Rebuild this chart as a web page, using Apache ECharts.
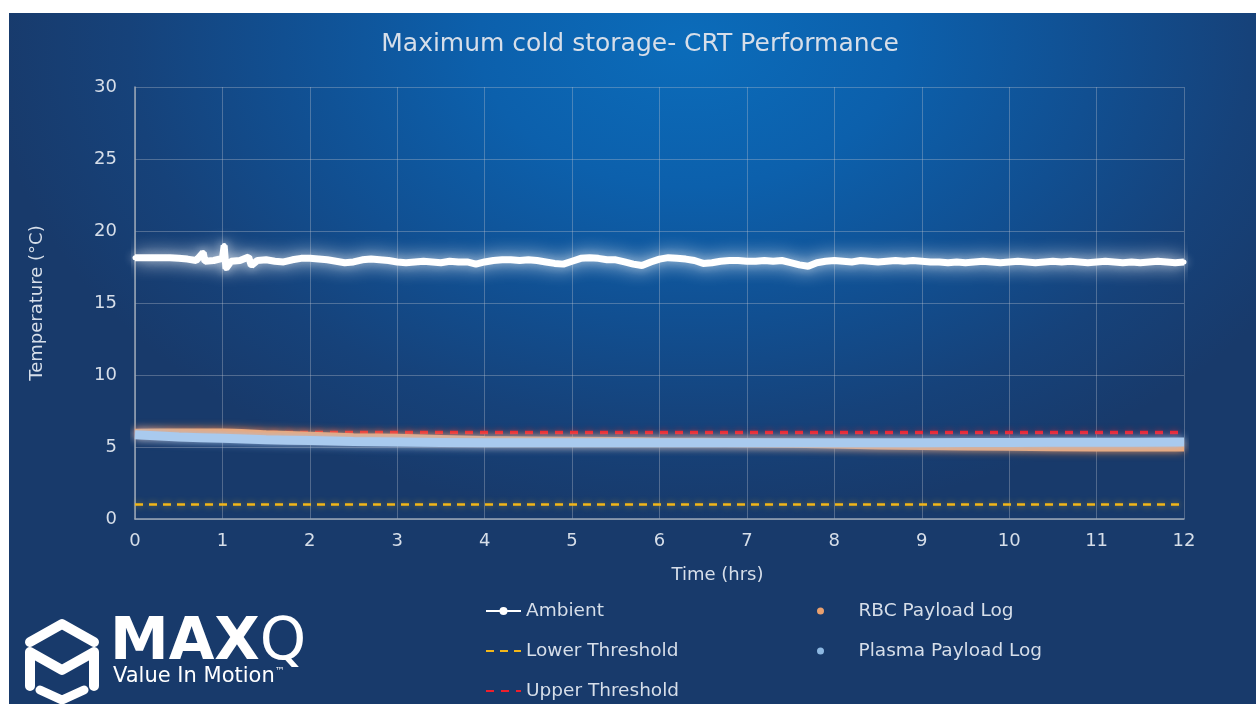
<!DOCTYPE html>
<html><head><meta charset="utf-8">
<script src="https://cdn.jsdelivr.net/npm/echarts@6/dist/echarts.min.js"></script>
<style>
html,body{margin:0;padding:0;background:#fff;width:1256px;height:704px;overflow:hidden;}
#bg{position:absolute;left:9px;top:13px;width:1247px;height:691px;
background:radial-gradient(ellipse 700px 480px at 680px 30px,#0b6cba 0%,#0c60ac 30%,#114f91 58%,#16427a 80%,#183a6b 100%);}
#chart{position:absolute;left:0;top:0;width:1256px;height:704px;}
</style></head>
<body><div id="bg"></div><div id="chart"></div>
<script>
// ---- data ----
const xTicks = [0,1,2,3,4,5,6,7,8,9,10,11,12];
const yTicks = [0,5,10,15,20,25,30];
const ambientTime = [0,0.1,0.2,0.3,0.4,0.5,0.6,0.7,0.78,0.8,0.9,1.0,1.02,1.04,1.1,1.2,1.3,1.33,1.4,1.5,1.6,1.7,1.8,1.9,2.0,2.1,2.2,2.3,2.4,2.5,2.6,2.7,2.8,2.9,3.0,3.1,3.2,3.3,3.4,3.5,3.6,3.7,3.8,3.9,4.0,4.1,4.2,4.3,4.4,4.5,4.6,4.7,4.8,4.9,5.0,5.1,5.2,5.3,5.4,5.5,5.6,5.7,5.8,5.9,6.0,6.1,6.2,6.3,6.4,6.5,6.6,6.7,6.8,6.9,7.0,7.1,7.2,7.3,7.4,7.5,7.6,7.7,7.8,7.9,8.0,8.1,8.2,8.3,8.4,8.5,8.6,8.7,8.8,8.9,9.0,9.1,9.2,9.3,9.4,9.5,9.6,9.7,9.8,9.9,10.0,10.1,10.2,10.3,10.4,10.5,10.6,10.7,10.8,10.9,11.0,11.1,11.2,11.3,11.4,11.5,11.6,11.7,11.8,11.9,12.0];
const ambientTemp = [18.15,18.15,18.15,18.15,18.15,18.1,18.05,17.95,18.5,17.9,17.95,18.1,19.0,17.4,17.9,17.95,18.2,17.6,17.95,18.0,17.9,17.85,18.0,18.1,18.1,18.05,18.0,17.9,17.8,17.85,18.0,18.05,18.0,17.95,17.85,17.8,17.85,17.9,17.85,17.8,17.9,17.85,17.85,17.7,17.85,17.95,18.0,18.0,17.95,18.0,17.95,17.85,17.75,17.7,17.9,18.1,18.15,18.1,18.0,18.0,17.85,17.7,17.6,17.85,18.05,18.15,18.1,18.05,17.95,17.75,17.8,17.9,17.95,17.95,17.9,17.9,17.95,17.9,17.95,17.8,17.65,17.55,17.8,17.9,17.95,17.9,17.85,17.95,17.9,17.85,17.9,17.95,17.9,17.95,17.9,17.85,17.85,17.8,17.85,17.8,17.85,17.9,17.85,17.8,17.85,17.9,17.85,17.8,17.85,17.9,17.85,17.9,17.85,17.8,17.85,17.9,17.85,17.8,17.85,17.8,17.85,17.9,17.85,17.8,17.85];
const payloadTime = [0,0.5,1,1.5,2,2.5,3,4,5,6,7,8,9,10,11,12];
const rbcTemp =    [5.95,5.98,5.98,5.85,5.75,5.65,5.6,5.45,5.4,5.35,5.3,5.2,5.1,5.05,5.0,5.0];
const plasmaTemp = [5.85,5.7,5.6,5.5,5.45,5.38,5.35,5.3,5.3,5.3,5.3,5.3,5.3,5.32,5.33,5.35];
const thresholdTime = [0,12];
const upperThreshold = [6,6];
const lowerThreshold = [1,1];

const pairs = (xs, ys) => xs.map((x,i)=>[x,ys[i]]);
const FONT = "'DejaVu Sans', sans-serif";
const TXT = '#d6dee9';

const chart = echarts.init(document.getElementById('chart'), null, {renderer:'canvas'});
chart.setOption({
  backgroundColor:'transparent',
  animation:false,
  title:{text:'Maximum cold storage- CRT Performance',left:635,top:27,textAlign:'center',
    textStyle:{color:TXT,fontSize:25,fontWeight:'normal',fontFamily:FONT}},
  grid:{left:135,right:72,top:87,bottom:185},
  xAxis:{type:'value',min:0,max:12,interval:1,name:'Time (hrs)',nameLocation:'middle',nameGap:47,
    nameTextStyle:{color:TXT,fontSize:18,fontFamily:FONT,padding:[0,0,0,116]},
    axisLine:{lineStyle:{color:'#9aa6b6',width:1.5}},axisTick:{show:false},
    axisLabel:{color:TXT,fontSize:18,fontFamily:FONT,margin:13,formatter:v=>xTicks.includes(v)?String(v):''},
    splitLine:{show:true,lineStyle:{color:'rgba(190,195,205,0.35)',width:1}}},
  yAxis:{type:'value',min:0,max:30,interval:5,name:'Temperature (°C)',nameLocation:'middle',nameGap:89,
    nameTextStyle:{color:TXT,fontSize:18,fontFamily:FONT},
    axisLine:{show:true,lineStyle:{color:'#9aa6b6',width:1.5}},axisTick:{show:false},
    axisLabel:{color:TXT,fontSize:18,fontFamily:FONT,margin:18,formatter:v=>yTicks.includes(v)?String(v):''},
    splitLine:{show:true,lineStyle:{color:'rgba(190,195,205,0.35)',width:1}}},
  legend:[
    {orient:'vertical',left:485,top:601,padding:0,itemWidth:35,itemHeight:10,itemGap:20,
     textStyle:{color:TXT,fontSize:18.5,fontFamily:FONT,lineHeight:20},
     data:['Ambient',
       {name:'Lower Threshold',itemStyle:{opacity:0}},
       {name:'Upper Threshold',itemStyle:{opacity:0}}]},
    {orient:'vertical',left:817,top:601,padding:0,itemWidth:66,itemHeight:7,itemGap:20,
     textStyle:{color:TXT,fontSize:18.5,fontFamily:FONT,lineHeight:20},
     data:[{name:'RBC Payload Log',icon:'circle'},{name:'Plasma Payload Log',icon:'circle'}]}
  ],
  series:[
    {name:'Ambient',type:'line',data:pairs(ambientTime,ambientTemp),z:10,
     symbol:'circle',symbolSize:5,showSymbol:true,color:'#ffffff',
     itemStyle:{color:'#ffffff',shadowBlur:8,shadowColor:'rgba(255,255,255,0.9)'},
     lineStyle:{color:'#ffffff',width:7,shadowBlur:18,shadowColor:'rgba(255,255,255,1)'}},
    {name:'Lower Threshold',type:'line',data:pairs(thresholdTime,lowerThreshold),z:4,
     symbol:'none',color:'#f2b619',
     lineStyle:{color:'#f2b619',width:2.5,type:[8,6],shadowBlur:6,shadowColor:'rgba(240,190,30,0.6)'}},
    {name:'Upper Threshold',type:'line',data:pairs(thresholdTime,upperThreshold),z:4,
     symbol:'none',color:'#e8202c',
     lineStyle:{color:'#ee1f2c',width:3.5,type:[8,7],shadowBlur:6,shadowColor:'rgba(230,30,40,0.6)'}},
    {name:'RBC Payload Log',type:'line',data:pairs(payloadTime,rbcTemp),z:5,smooth:0.3,
     symbol:'none',color:'#e9a06e',
     lineStyle:{color:'#f2a56f',width:9,shadowBlur:8,shadowColor:'rgba(255,140,60,0.8)'}},
    {name:'Plasma Payload Log',type:'line',data:pairs(payloadTime,plasmaTemp),z:6,smooth:0.3,
     symbol:'none',color:'#8db8e2',
     lineStyle:{color:'#a9caee',width:9,shadowBlur:8,shadowColor:'rgba(150,200,255,0.8)'}}
  ],
  graphic:[
    {type:'polyline',shape:{points:[[30,642],[62,624],[94,642]]},
     style:{stroke:'#ffffff',lineWidth:10,lineCap:'round',lineJoin:'round',fill:null}},
    {type:'polyline',shape:{points:[[30,686],[30,652],[62,670],[94,652],[94,686]]},
     style:{stroke:'#ffffff',lineWidth:10,lineCap:'round',lineJoin:'round',fill:null}},
    {type:'polyline',shape:{points:[[40,690],[62,700],[84,690]]},
     style:{stroke:'#ffffff',lineWidth:9,lineCap:'round',lineJoin:'round',fill:null}},
    {type:'text',left:110,top:614,style:{
      text:'{b|MAX}{n|Q}',
      rich:{b:{fill:'#ffffff',fontSize:59,fontWeight:'bold',fontFamily:FONT},
            n:{fill:'#ffffff',fontSize:59,fontWeight:'normal',fontFamily:FONT}}}},
    {type:'text',left:113,top:666,style:{
      text:'{v|Value In Motion}{t|™}',
      rich:{v:{fill:'#ffffff',fontSize:21,fontFamily:FONT},
            t:{fill:'#ffffff',fontSize:10,fontFamily:FONT,verticalAlign:'top',padding:[0,0,10,0]}}}}
  ]
});
</script></body></html>
